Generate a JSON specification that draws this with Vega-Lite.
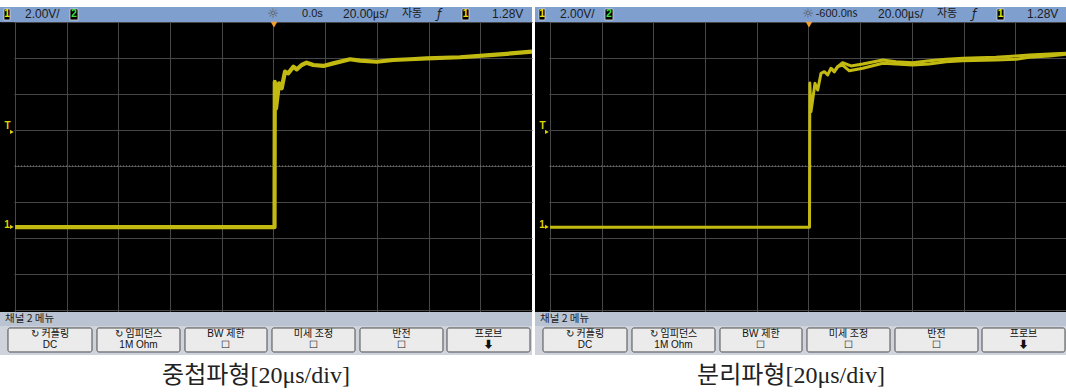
{
  "$schema": "https://vega.github.io/schema/vega-lite/v6.json",
  "padding": 0,
  "background": "white",
  "spacing": 2,
  "config": {"view": {"stroke": null, "fill": "#000000"}},
  "data": {"values": [
    {"kind": "f", "panel": "A", "delay": "0.0s", "cap": "중첩파형[20μs/div]"},
    {"kind": "f", "panel": "B", "delay": "-600.0㎱", "cap": "분리파형[20μs/div]"},
    {"kind": "tr", "panel": "A", "s": "a", "t": -100, "v": -3.4},
    {"kind": "tr", "panel": "A", "s": "a", "t": 0.4, "v": -3.4},
    {"kind": "tr", "panel": "A", "s": "a", "t": 0.5, "v": 4.68},
    {"kind": "tr", "panel": "A", "s": "a", "t": 0.97, "v": 3.2},
    {"kind": "tr", "panel": "A", "s": "a", "t": 2.13, "v": 4.59},
    {"kind": "tr", "panel": "A", "s": "a", "t": 3.17, "v": 4.32},
    {"kind": "tr", "panel": "A", "s": "a", "t": 4.45, "v": 5.24},
    {"kind": "tr", "panel": "A", "s": "a", "t": 5.73, "v": 5.15},
    {"kind": "tr", "panel": "A", "s": "a", "t": 7.66, "v": 5.52},
    {"kind": "tr", "panel": "A", "s": "a", "t": 8.97, "v": 5.37},
    {"kind": "tr", "panel": "A", "s": "a", "t": 10.9, "v": 5.61},
    {"kind": "tr", "panel": "A", "s": "a", "t": 12.8, "v": 5.74},
    {"kind": "tr", "panel": "A", "s": "a", "t": 15.4, "v": 5.61},
    {"kind": "tr", "panel": "A", "s": "a", "t": 19.3, "v": 5.56},
    {"kind": "tr", "panel": "A", "s": "a", "t": 23.1, "v": 5.7},
    {"kind": "tr", "panel": "A", "s": "a", "t": 29.6, "v": 5.93},
    {"kind": "tr", "panel": "A", "s": "a", "t": 33.5, "v": 5.85},
    {"kind": "tr", "panel": "A", "s": "a", "t": 39.9, "v": 5.79},
    {"kind": "tr", "panel": "A", "s": "a", "t": 46.3, "v": 5.89},
    {"kind": "tr", "panel": "A", "s": "a", "t": 52.8, "v": 5.93},
    {"kind": "tr", "panel": "A", "s": "a", "t": 59.3, "v": 5.98},
    {"kind": "tr", "panel": "A", "s": "a", "t": 72.1, "v": 6.04},
    {"kind": "tr", "panel": "A", "s": "a", "t": 85.0, "v": 6.17},
    {"kind": "tr", "panel": "A", "s": "a", "t": 100, "v": 6.35},
    {"kind": "tr", "panel": "B", "s": "b1", "t": -100, "v": -3.4},
    {"kind": "tr", "panel": "B", "s": "b1", "t": 0.4, "v": -3.4},
    {"kind": "tr", "panel": "B", "s": "b1", "t": 0.5, "v": 4.61},
    {"kind": "tr", "panel": "B", "s": "b1", "t": 0.97, "v": 3.02},
    {"kind": "tr", "panel": "B", "s": "b1", "t": 2.51, "v": 4.59},
    {"kind": "tr", "panel": "B", "s": "b1", "t": 3.56, "v": 4.22},
    {"kind": "tr", "panel": "B", "s": "b1", "t": 4.84, "v": 5.15},
    {"kind": "tr", "panel": "B", "s": "b1", "t": 6.11, "v": 5.24},
    {"kind": "tr", "panel": "B", "s": "b1", "t": 7.43, "v": 5.06},
    {"kind": "tr", "panel": "B", "s": "b1", "t": 8.7, "v": 5.43},
    {"kind": "tr", "panel": "B", "s": "b1", "t": 9.98, "v": 5.24},
    {"kind": "tr", "panel": "B", "s": "b1", "t": 11.3, "v": 5.52},
    {"kind": "tr", "panel": "B", "s": "b1", "t": 13.2, "v": 5.74},
    {"kind": "tr", "panel": "B", "s": "b1", "t": 16.4, "v": 5.56},
    {"kind": "tr", "panel": "B", "s": "b1", "t": 21.0, "v": 5.67},
    {"kind": "tr", "panel": "B", "s": "b1", "t": 28.7, "v": 5.89},
    {"kind": "tr", "panel": "B", "s": "b1", "t": 33.8, "v": 5.79},
    {"kind": "tr", "panel": "B", "s": "b1", "t": 40.3, "v": 5.74},
    {"kind": "tr", "panel": "B", "s": "b1", "t": 46.7, "v": 5.85},
    {"kind": "tr", "panel": "B", "s": "b1", "t": 53.2, "v": 5.93},
    {"kind": "tr", "panel": "B", "s": "b1", "t": 59.7, "v": 5.98},
    {"kind": "tr", "panel": "B", "s": "b1", "t": 72.5, "v": 6.04},
    {"kind": "tr", "panel": "B", "s": "b1", "t": 80.3, "v": 6.11},
    {"kind": "tr", "panel": "B", "s": "b1", "t": 85.4, "v": 6.17},
    {"kind": "tr", "panel": "B", "s": "b1", "t": 93.2, "v": 6.22},
    {"kind": "tr", "panel": "B", "s": "b1", "t": 100, "v": 6.26},
    {"kind": "tr", "panel": "B", "s": "b2", "t": 8.7, "v": 5.43},
    {"kind": "tr", "panel": "B", "s": "b2", "t": 9.98, "v": 5.24},
    {"kind": "tr", "panel": "B", "s": "b2", "t": 11.3, "v": 5.52},
    {"kind": "tr", "panel": "B", "s": "b2", "t": 13.2, "v": 5.61},
    {"kind": "tr", "panel": "B", "s": "b2", "t": 15.8, "v": 5.29},
    {"kind": "tr", "panel": "B", "s": "b2", "t": 21.0, "v": 5.43},
    {"kind": "tr", "panel": "B", "s": "b2", "t": 28.7, "v": 5.71},
    {"kind": "tr", "panel": "B", "s": "b2", "t": 33.8, "v": 5.67},
    {"kind": "tr", "panel": "B", "s": "b2", "t": 40.3, "v": 5.61},
    {"kind": "tr", "panel": "B", "s": "b2", "t": 46.7, "v": 5.67},
    {"kind": "tr", "panel": "B", "s": "b2", "t": 53.2, "v": 5.79},
    {"kind": "tr", "panel": "B", "s": "b2", "t": 59.7, "v": 5.85},
    {"kind": "tr", "panel": "B", "s": "b2", "t": 72.5, "v": 5.89},
    {"kind": "tr", "panel": "B", "s": "b2", "t": 80.3, "v": 5.93},
    {"kind": "tr", "panel": "B", "s": "b2", "t": 85.4, "v": 6.04},
    {"kind": "tr", "panel": "B", "s": "b2", "t": 93.2, "v": 6.11},
    {"kind": "tr", "panel": "B", "s": "b2", "t": 100, "v": 6.22}
  ]},
  "facet": {"column": {"field": "panel", "type": "nominal", "title": null, "header": {"title": null, "labels": false}}},
  "spec": {
    "width": 532,
    "height": 392,
    "layer": [
      {
        "transform": [{"filter": "datum.kind == 'tr'"}],
        "mark": {"type": "line", "color": "#c2ba10", "strokeJoin": "round", "clip": true},
        "encoding": {
          "x": {"field": "t", "type": "quantitative",
                "scale": {"domain": [-105.8, 100], "nice": false, "zero": false},
                "axis": {"values": [-100, -80, -60, -40, -20, 0, 20, 40, 60, 80], "grid": true, "labels": false, "ticks": false, "domain": false, "title": null, "gridColor": "#474747", "gridOpacity": 1, "gridWidth": 1}},
          "y": {"field": "v", "type": "quantitative",
                "scale": {"domain": [-12.556, 9.222], "nice": false, "zero": false},
                "axis": {"values": [-8, -6, -4, -2, 0, 2, 4, 6, 8], "grid": true, "labels": false, "ticks": false, "domain": false, "title": null, "gridColor": "#474747", "gridOpacity": 1, "gridWidth": 1}},
          "detail": {"field": "s", "type": "nominal"},
          "strokeWidth": {"condition": {"test": "datum.panel == 'A'", "value": 4.2}, "value": 3}
        }
      },
      {
        "transform": [{"filter": "datum.kind == 'f'"}],
        "layer": [
          {"mark": {"type": "rect", "fill": "#ffffff"}, "encoding": {"x": {"datum": -105.8}, "x2": {"datum": 100}, "y": {"datum": 9.222}, "y2": {"datum": 8.833}}},
          {"mark": {"type": "rect", "fill": "#7f9fcf"}, "encoding": {"x": {"datum": -105.8}, "x2": {"datum": 100}, "y": {"datum": 8.833}, "y2": {"datum": 8.0}}},
          {"mark": {"type": "rect", "fill": "#000000"}, "encoding": {"x": {"datum": -105.8}, "x2": {"datum": -100.25}, "y": {"datum": 7.97}, "y2": {"datum": -8.111}}},
          {"mark": {"type": "rect", "fill": "#cfd4dc"}, "encoding": {"x": {"datum": -105.8}, "x2": {"datum": 100}, "y": {"datum": -8.111}, "y2": {"datum": -10.5}}},
          {"mark": {"type": "rect", "fill": "#b9c3d2"}, "encoding": {"x": {"datum": -105.8}, "x2": {"datum": 100}, "y": {"datum": -8.111}, "y2": {"datum": -8.889}}},
          {"mark": {"type": "rect", "fill": "#ffffff"}, "encoding": {"x": {"datum": -105.8}, "x2": {"datum": 100}, "y": {"datum": -10.5}, "y2": {"datum": -12.556}}},
          {"mark": {"type": "rule", "color": "#8a8a8a", "strokeDash": [1, 2], "strokeWidth": 1}, "encoding": {"x": {"datum": -100}, "x2": {"datum": 100}, "y": {"datum": 0}}},
          {"mark": {"type": "point", "shape": "triangle-down", "filled": true, "color": "#f0a030", "size": 45, "opacity": 1}, "encoding": {"x": {"datum": 0.19}, "y": {"datum": 7.85}}},
          {"mark": {"type": "text", "text": "T", "color": "#e0d400", "fontSize": 10, "fontWeight": "bold", "font": "Liberation Sans", "align": "center", "baseline": "middle"}, "encoding": {"x": {"datum": -102.9}, "y": {"datum": 2.2}}},
          {"mark": {"type": "point", "shape": "triangle-right", "filled": true, "color": "#e0d400", "size": 18, "opacity": 1}, "encoding": {"x": {"datum": -101.2}, "y": {"datum": 1.889}}},
          {"mark": {"type": "text", "text": "1", "color": "#e0d400", "fontSize": 10, "fontWeight": "bold", "font": "Liberation Sans", "align": "center", "baseline": "middle"}, "encoding": {"x": {"datum": -103.1}, "y": {"datum": -3.3}}},
          {"mark": {"type": "point", "shape": "triangle-right", "filled": true, "color": "#e0d400", "size": 18, "opacity": 1}, "encoding": {"x": {"datum": -101.2}, "y": {"datum": -3.389}}},
          {"mark": {"type": "rect", "fill": "#000000", "stroke": "#d8d8d8", "strokeWidth": 0.8}, "encoding": {"x": {"datum": -104.26}, "x2": {"datum": -101.93}, "y": {"datum": 8.722}, "y2": {"datum": 8.111}}},
          {"mark": {"type": "text", "text": "1", "color": "#f0e000", "fontSize": 10, "fontWeight": "bold", "font": "Liberation Sans", "align": "center", "baseline": "middle"}, "encoding": {"x": {"datum": -103.09}, "y": {"datum": 8.417}}},
          {"mark": {"type": "text", "text": "2.00V/", "color": "#1c1c1c", "fontSize": 12, "font": "Liberation Sans", "align": "left", "baseline": "middle"}, "encoding": {"x": {"datum": -96.13}, "y": {"datum": 8.417}}},
          {"mark": {"type": "rect", "fill": "#000000", "stroke": "#d8d8d8", "strokeWidth": 0.8}, "encoding": {"x": {"datum": -78.72}, "x2": {"datum": -75.63}, "y": {"datum": 8.722}, "y2": {"datum": 8.111}}},
          {"mark": {"type": "text", "text": "2", "color": "#40e040", "fontSize": 10, "fontWeight": "bold", "font": "Liberation Sans", "align": "center", "baseline": "middle"}, "encoding": {"x": {"datum": -77.18}, "y": {"datum": 8.417}}},
          {"mark": {"type": "text", "text": "☼", "color": "#555555", "fontSize": 13, "font": "DejaVu Sans", "align": "center", "baseline": "middle"}, "encoding": {"x": {"datum": -0.2}, "y": {"datum": 8.417}}},
          {"mark": {"type": "text", "color": "#1c1c1c", "fontSize": 11, "font": "Liberation Sans, Noto Sans CJK KR", "align": "right", "baseline": "middle"}, "encoding": {"text": {"field": "delay"}, "x": {"datum": 19.1}, "y": {"datum": 8.417}}},
          {"mark": {"type": "text", "text": "20.00㎲/", "color": "#1c1c1c", "fontSize": 12, "font": "Liberation Sans, Noto Sans CJK KR", "align": "left", "baseline": "middle"}, "encoding": {"x": {"datum": 26.89}, "y": {"datum": 8.417}}},
          {"mark": {"type": "text", "text": "자동", "color": "#1c1c1c", "fontSize": 11, "font": "Noto Sans CJK KR", "align": "left", "baseline": "middle"}, "encoding": {"x": {"datum": 49.71}, "y": {"datum": 8.417}}},
          {"mark": {"type": "text", "text": "ƒ", "color": "#1c1c1c", "fontSize": 12, "font": "DejaVu Sans", "fontStyle": "italic", "align": "center", "baseline": "middle"}, "encoding": {"x": {"datum": 64.02}, "y": {"datum": 8.417}}},
          {"mark": {"type": "rect", "fill": "#000000", "stroke": "#d8d8d8", "strokeWidth": 0.8}, "encoding": {"x": {"datum": 72.92}, "x2": {"datum": 75.63}, "y": {"datum": 8.722}, "y2": {"datum": 8.111}}},
          {"mark": {"type": "text", "text": "1", "color": "#f0e000", "fontSize": 10, "fontWeight": "bold", "font": "Liberation Sans", "align": "center", "baseline": "middle"}, "encoding": {"x": {"datum": 74.27}, "y": {"datum": 8.417}}},
          {"mark": {"type": "text", "text": "1.28V", "color": "#1c1c1c", "fontSize": 12, "font": "Liberation Sans", "align": "left", "baseline": "middle"}, "encoding": {"x": {"datum": 84.53}, "y": {"datum": 8.417}}},
          {"mark": {"type": "text", "text": "채널 2 메뉴", "color": "#1c1c1c", "fontSize": 10.5, "font": "Noto Sans CJK KR", "align": "left", "baseline": "middle"}, "encoding": {"x": {"datum": -103.87}, "y": {"datum": -8.5}}},
          {"mark": {"type": "rect", "fill": "#ebebeb", "stroke": "#4a4a4a", "strokeWidth": 1, "cornerRadius": 2}, "encoding": {"x": {"datum": -102.71}, "x2": {"datum": -70.21}, "y": {"datum": -9.0}, "y2": {"datum": -10.333}}},
          {"mark": {"type": "rect", "fill": "#ebebeb", "stroke": "#4a4a4a", "strokeWidth": 1, "cornerRadius": 2}, "encoding": {"x": {"datum": -68.28}, "x2": {"datum": -36.17}, "y": {"datum": -9.0}, "y2": {"datum": -10.333}}},
          {"mark": {"type": "rect", "fill": "#ebebeb", "stroke": "#4a4a4a", "strokeWidth": 1, "cornerRadius": 2}, "encoding": {"x": {"datum": -34.24}, "x2": {"datum": -2.51}, "y": {"datum": -9.0}, "y2": {"datum": -10.333}}},
          {"mark": {"type": "rect", "fill": "#ebebeb", "stroke": "#4a4a4a", "strokeWidth": 1, "cornerRadius": 2}, "encoding": {"x": {"datum": -0.58}, "x2": {"datum": 31.53}, "y": {"datum": -9.0}, "y2": {"datum": -10.333}}},
          {"mark": {"type": "rect", "fill": "#ebebeb", "stroke": "#4a4a4a", "strokeWidth": 1, "cornerRadius": 2}, "encoding": {"x": {"datum": 33.46}, "x2": {"datum": 65.57}, "y": {"datum": -9.0}, "y2": {"datum": -10.333}}},
          {"mark": {"type": "rect", "fill": "#ebebeb", "stroke": "#4a4a4a", "strokeWidth": 1, "cornerRadius": 2}, "encoding": {"x": {"datum": 67.12}, "x2": {"datum": 99.23}, "y": {"datum": -9.0}, "y2": {"datum": -10.333}}},
          {"mark": {"type": "text", "text": ["↻ 커플링", "DC"], "color": "#111111", "fontSize": 10, "lineHeight": 10.5, "font": "Liberation Sans, Noto Sans CJK KR", "align": "center", "baseline": "top"}, "encoding": {"x": {"datum": -86.46}, "y": {"datum": -9.06}}},
          {"mark": {"type": "text", "text": ["↻ 임피던스", "1M Ohm"], "color": "#111111", "fontSize": 10, "lineHeight": 10.5, "font": "Liberation Sans, Noto Sans CJK KR", "align": "center", "baseline": "top"}, "encoding": {"x": {"datum": -52.22}, "y": {"datum": -9.06}}},
          {"mark": {"type": "text", "text": ["BW 제한", "☐"], "color": "#111111", "fontSize": 10, "lineHeight": 10.5, "font": "Liberation Sans, Noto Sans CJK KR", "align": "center", "baseline": "top"}, "encoding": {"x": {"datum": -18.38}, "y": {"datum": -9.06}}},
          {"mark": {"type": "text", "text": ["미세 조정", "☐"], "color": "#111111", "fontSize": 10, "lineHeight": 10.5, "font": "Liberation Sans, Noto Sans CJK KR", "align": "center", "baseline": "top"}, "encoding": {"x": {"datum": 15.47}, "y": {"datum": -9.06}}},
          {"mark": {"type": "text", "text": ["반전", "☐"], "color": "#111111", "fontSize": 10, "lineHeight": 10.5, "font": "Liberation Sans, Noto Sans CJK KR", "align": "center", "baseline": "top"}, "encoding": {"x": {"datum": 49.52}, "y": {"datum": -9.06}}},
          {"mark": {"type": "text", "text": ["프로브", "⬇"], "color": "#111111", "fontSize": 10, "lineHeight": 10.5, "font": "Liberation Sans, Noto Sans CJK KR", "align": "center", "baseline": "top"}, "encoding": {"x": {"datum": 83.17}, "y": {"datum": -9.06}}},
          {"mark": {"type": "text", "color": "#222222", "fontSize": 24, "font": "Liberation Serif, Noto Sans CJK KR", "align": "center", "baseline": "middle"}, "encoding": {"text": {"field": "cap"}, "x": {"datum": -6.77}, "y": {"datum": -11.667}}}
        ]
      }
    ]
  }
}
